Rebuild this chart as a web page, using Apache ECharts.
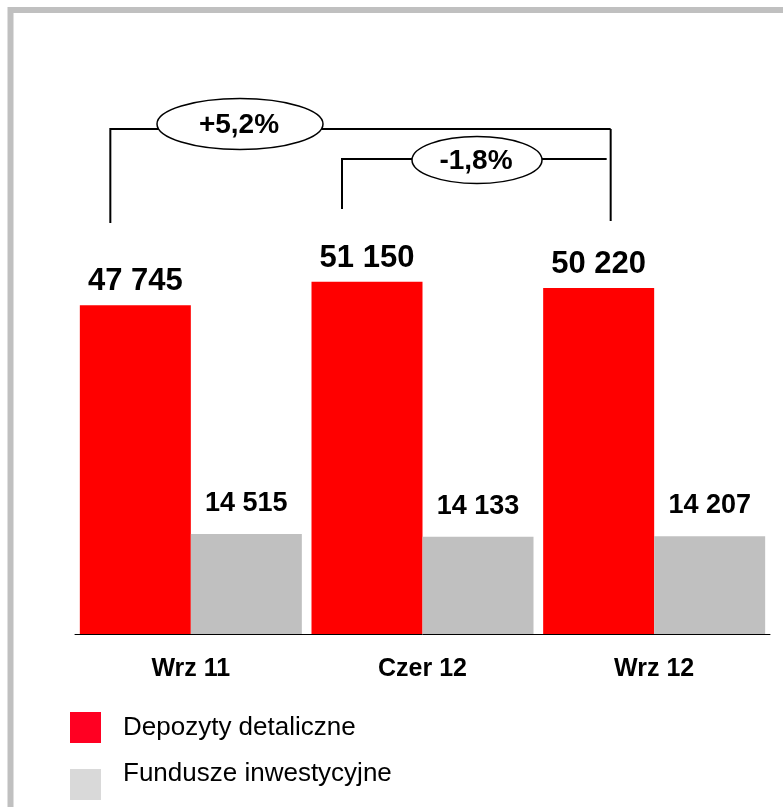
<!DOCTYPE html>
<html>
<head>
<meta charset="utf-8">
<script src="https://cdn.jsdelivr.net/npm/echarts@6/dist/echarts.min.js"></script>
<style>
	html, body {
		margin: 0;
		padding: 0;
		background: #fff;
	}
	#chart {
		width: 783px;
		height: 807px;
	}
</style>
</head>
<body>
<div id="chart"></div>
<script>
	// dane
	const categories = ['Wrz 11', 'Czer 12', 'Wrz 12']
	const depozyty = [47745, 51150, 50220]
	const fundusze = [14515, 14133, 14207]
	const seriesNames = ['Depozyty detaliczne', 'Fundusze inwestycyjne']
	const changeLabels = ['+5,2%', '-1,8%']

	const font = '"Liberation Sans", Arial, sans-serif'

	// 47 745 -> "47 745"
	function fmt(v) {
		return String(v).replace(/\B(?=(\d{3})+(?!\d))/g, ' ')
	}

	const chart = echarts.init(document.getElementById('chart'))

	let option = {
		animation: false,
		backgroundColor: '#fff',
		textStyle: {
			fontFamily: font,
		},
		grid: {
			left: 75,
			right: 13,
			top: 83,
			bottom: 173,
		},
		legend: [
			{
				left: 70,
				top: 712,
				padding: 0,
				itemWidth: 31,
				itemHeight: 31,
				icon: 'rect',
				selectedMode: false,
				data: [{ name: seriesNames[0], itemStyle: { color: '#ff0022' } }],
				textStyle: {
					fontSize: 26,
					color: '#000',
					fontFamily: font,
					padding: [0, 0, 0, 17],
				},
			},
			{
				left: 70,
				top: 760.5,
				padding: 0,
				itemWidth: 31,
				itemHeight: 31,
				icon: 'rect',
				selectedMode: false,
				data: [{ name: seriesNames[1], itemStyle: { color: '#d9d9d9' } }],
				// tekst wyzej niz kwadrat - pusta druga linia
				formatter: (name) => name + '\n ',
				textStyle: {
					fontSize: 26,
					lineHeight: 22,
					color: '#000',
					fontFamily: font,
					padding: [0, 0, 0, 17],
				},
			},
		],
		xAxis: {
			type: 'category',
			data: categories,
			axisLine: {
				show: true,
				lineStyle: { color: '#000', width: 1 },
			},
			axisTick: { show: false },
			axisLabel: {
				margin: 23,
				fontSize: 25,
				fontWeight: 'bold',
				color: '#000',
				fontFamily: font,
			},
		},
		yAxis: {
			type: 'value',
			min: 0,
			max: 80000,
			show: false,
			splitLine: { show: false },
		},
		series: [
			{
				name: seriesNames[0],
				type: 'bar',
				data: depozyty,
				barWidth: 111,
				barGap: '0%',
				itemStyle: { color: '#ff0000' },
				label: {
					show: true,
					position: 'top',
					distance: 8,
					fontSize: 31,
					fontWeight: 'bold',
					color: '#000',
					fontFamily: font,
					formatter: (p) => fmt(p.value),
				},
			},
			{
				name: seriesNames[1],
				type: 'bar',
				data: fundusze,
				barWidth: 111,
				barGap: '0%',
				itemStyle: { color: '#c0c0c0' },
				label: {
					show: true,
					position: 'top',
					distance: 17,
					fontSize: 27,
					fontWeight: 'bold',
					color: '#000',
					fontFamily: font,
					formatter: (p) => fmt(p.value),
				},
			},
		],
	}
	chart.setOption(option)

	// klamry ze zmiana % - x liczone od srodka czerwonych slupkow
	function redX(i) {
		return chart.convertToPixel({ xAxisIndex: 0 }, i) - 111 / 2
	}

	function bracket(x1, x2, y, yl, yr, xEnd, cx, rx, ry, cy, text) {
		const line = { stroke: '#000', lineWidth: 2, fill: null }
		return [
			{
				type: 'polyline',
				shape: { points: [[x1, yl], [x1, y], [xEnd, y]] },
				style: line,
			},
			{
				type: 'line',
				shape: { x1: x2, y1: y, x2: x2, y2: yr },
				style: line,
			},
			{
				type: 'ellipse',
				shape: { cx: cx, cy: cy, rx: rx, ry: ry },
				style: { fill: '#fff', stroke: '#000', lineWidth: 1.5 },
			},
			{
				type: 'text',
				x: cx - 1,
				y: cy + 1,
				style: {
					text: text,
					fill: '#000',
					font: 'bold 28px ' + font,
					textAlign: 'center',
					textVerticalAlign: 'middle',
				},
			},
		]
	}

	const a = redX(0) - 25
	const b = redX(2) + 12
	const c = redX(1) - 25
	const d = redX(2) + 8

	let elements = [
		// ramka
		{
			type: 'rect',
			shape: { x: 10.5, y: 10, width: 900, height: 900 },
			style: { fill: null, stroke: '#c0c0c0', lineWidth: 6 },
		},
	]
	elements = elements.concat(bracket(a, b, 129, 223, 221, b, 240, 83, 25.5, 124, changeLabels[0]))
	// mala klamra - prawa strona bez pionowej kreski
	elements = elements.concat(bracket(c, d, 159, 209, 159, d, 477, 65, 23.5, 160, changeLabels[1]))
	chart.setOption({ graphic: { elements: elements } })
</script>
</body>
</html>
